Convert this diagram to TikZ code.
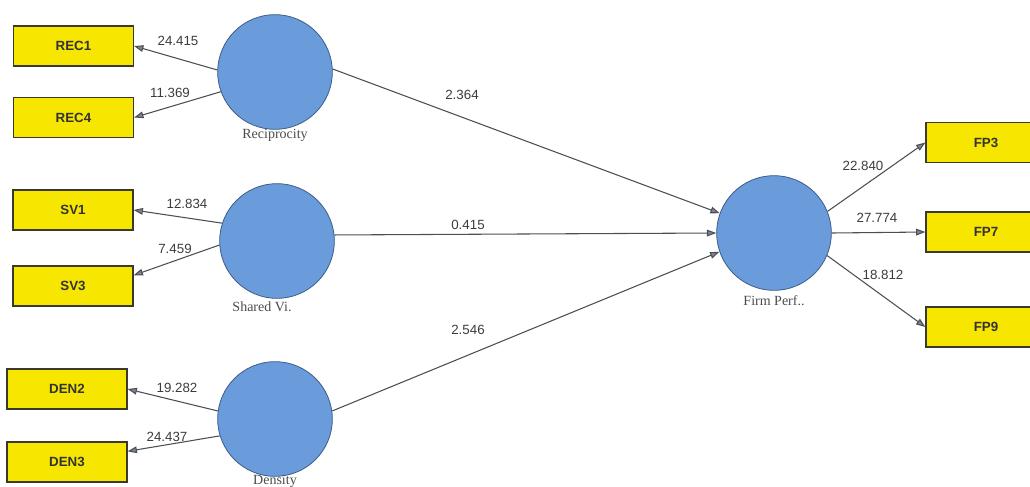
\documentclass[tikz,border=0pt]{standalone}
\usepackage{fontspec}
\setmainfont{Liberation Serif}
\setsansfont{Liberation Sans}
\usetikzlibrary{arrows.meta}
\definecolor{itemfill}{HTML}{F7E600}
\definecolor{itemedge}{HTML}{3A3A2A}
\definecolor{lvfill}{HTML}{6A9BDA}
\definecolor{lvedge}{HTML}{3E5D88}
\definecolor{pathcol}{HTML}{4A4F58}
\definecolor{numcol}{HTML}{3C3C3C}
\tikzset{
  item/.style={draw=itemedge, line width=0.9pt, fill=itemfill,
    minimum width=90pt, minimum height=30pt, inner sep=0pt,
    font=\sffamily\bfseries\fontsize{10}{12}\selectfont, text=black!80},
  latent/.style={circle, draw=lvedge, line width=0.6pt, fill=lvfill,
    minimum size=86pt, inner sep=0pt},
  lvname/.style={font=\rmfamily\fontsize{10.5}{12}\selectfont, text=black!70},
  coef/.style={font=\sffamily\fontsize{10}{12}\selectfont, text=numcol, inner sep=1pt},
  path/.style={draw=pathcol, line width=0.8pt,
    -{Triangle[length=7pt,width=5pt,fill=pathcol!70]}},
}
\begin{document}
\begin{tikzpicture}[x=0.75pt,y=-0.75pt]
\useasboundingbox (0,0) rectangle (1030,486);

% indicators
\node[item] (rec1) at (73.5,46) {REC1};
\node[item] (rec4) at (73.5,117.5) {REC4};
\node[item] (sv1) at (73,210) {SV1};
\node[item] (sv3) at (73,286) {SV3};
\node[item] (den2) at (67,389) {DEN2};
\node[item] (den3) at (67,462) {DEN3};
\node[item] (fp3) at (986,142.5) {FP3};
\node[item] (fp7) at (986,232) {FP7};
\node[item] (fp9) at (986,327) {FP9};

% constructs
\node[latent] (rec) at (275,72) {};
\node[latent] (sv) at (277,241) {};
\node[latent] (den) at (275,419) {};
\node[latent] (fp) at (774,233) {};

\node[lvname] (recl) at (275,135) {Reciprocity};
\node[lvname] (svl) at (262,307) {Shared Vi.};
\node[lvname] (denl) at (275,481) {Density};
\node[lvname] (fpl) at (774,301) {Firm Perf..};

% outer paths
\draw[path] (rec.178) -- (rec1.east);
\draw[path] (rec.200) -- (rec4.east);
\draw[path] (sv.162) -- (sv1.east);
\draw[path] (sv.184) -- (sv3.10);
\draw[path] (den.172) -- (den2.east);
\draw[path] (den.197) -- (den3.10);
\draw[path] (fp.22) -- (fp3.180);
\draw[path] (fp.0) -- (fp7.west);
\draw[path] (fp.337) -- (fp9.west);

% inner paths
\draw[path] (rec.3) -- (fp.160);
\draw[path] (sv.6) -- (fp.180);
\draw[path] (den.8) -- (fp.199);

% coefficients
\node[coef] (c1) at (178,41) {24.415};
\node[coef] (c2) at (170,93) {11.369};
\node[coef] (c3) at (187,204) {12.834};
\node[coef] (c4) at (175,249) {7.459};
\node[coef] (c5) at (177,388) {19.282};
\node[coef] (c6) at (167,437) {24.437};
\node[coef] (c7) at (863,166) {22.840};
\node[coef] (c8) at (877,218) {27.774};
\node[coef] (c9) at (883,275) {18.812};
\node[coef] (c10) at (462,95) {2.364};
\node[coef] (c11) at (468,225) {0.415};
\node[coef] (c12) at (468,330) {2.546};
\end{tikzpicture}
\end{document}
